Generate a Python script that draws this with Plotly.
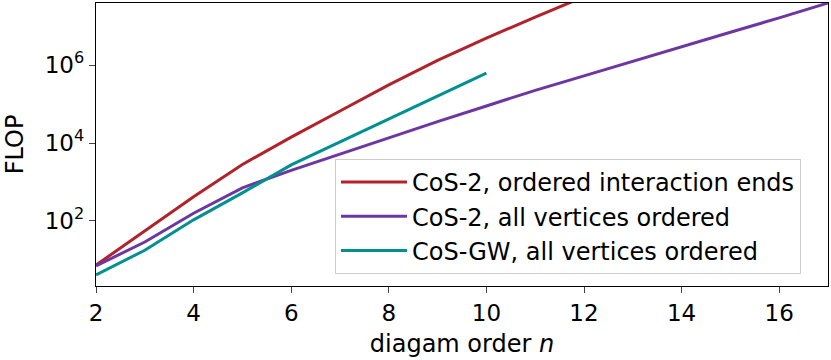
import plotly.graph_objects as go

order_red = [2, 3, 4, 5, 6, 7, 8, 9, 10, 11, 12]
log_red = [0.87, 1.74, 2.62, 3.45, 4.15, 4.82, 5.49, 6.12, 6.69, 7.23, 7.75]

order_purple = [2, 3, 4, 5, 6, 7, 8, 9, 10, 11, 12, 13, 14, 15, 16, 17]
log_purple = [0.85, 1.46, 2.2, 2.85, 3.3, 3.72, 4.15, 4.55, 4.95, 5.35, 5.72, 6.1, 6.47, 6.84, 7.21, 7.59]

order_teal = [2, 3, 4, 5, 6, 7, 8, 9, 10]
log_teal = [0.62, 1.25, 2.03, 2.72, 3.44, 4.03, 4.62, 5.2, 5.79]

names = ["CoS-2, ordered interaction ends", "CoS-2, all vertices ordered", "CoS-GW, all vertices ordered"]
colors = ["#B2222A", "#6C37A2", "#009090"]

ytickvals = [1e2, 1e4, 1e6]
yticktext = ["10<sup>2</sup>", "10<sup>4</sup>", "10<sup>6</sup>"]
xtickvals = [2, 4, 6, 8, 10, 12, 14, 16]

fig = go.Figure()
for xs, ls, nm, c in [(order_red, log_red, names[0], colors[0]),
                      (order_purple, log_purple, names[1], colors[1]),
                      (order_teal, log_teal, names[2], colors[2])]:
    fig.add_trace(go.Scatter(x=xs, y=[10 ** v for v in ls], mode="lines", name=nm,
                             line=dict(color=c, width=3)))

font = "DejaVu Sans"
fig.update_layout(
    width=831, height=360,
    margin=dict(l=96, r=3, t=3, b=74, autoexpand=False),
    paper_bgcolor="white", plot_bgcolor="white",
    font=dict(family=font, size=24, color="black"),
    showlegend=True,
    legend=dict(x=0.3265, y=0.449, xanchor="left", yanchor="top",
                bgcolor="white", bordercolor="#cccccc", borderwidth=1,
                itemwidth=66,
                font=dict(family=font, size=24, color="black")),
)
fig.update_xaxes(range=[2, 17], tickvals=xtickvals, ticks="outside", ticklen=6,
                 tickwidth=1.3, showline=True, linecolor="black", linewidth=1.3,
                 mirror=True, showgrid=False, zeroline=False, automargin=False,
                 ticklabelstandoff=0,
                 tickfont=dict(family=font, size=23, color="black"),
                 title=dict(text="diagam order <i>n</i>", standoff=10,
                            font=dict(family=font, size=24, color="black")))
fig.update_yaxes(type="log", range=[0.333, 7.59], tickvals=ytickvals, ticktext=yticktext,
                 ticks="outside", ticklen=6, tickwidth=1.3, showline=True, linecolor="black",
                 linewidth=1.3, mirror=True, showgrid=False, zeroline=False, automargin=False,
                 tickfont=dict(family=font, size=23, color="black"),
                 title=dict(text="FLOP", standoff=14,
                            font=dict(family=font, size=24, color="black")))

fig.write_html("out.html", config={"displayModeBar": False},
               post_script="document.body.style.margin='0';document.body.style.padding='0';")
